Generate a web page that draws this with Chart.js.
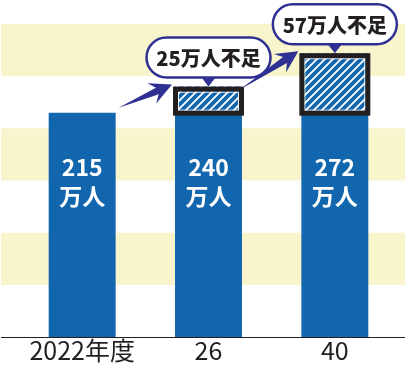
<!DOCTYPE html>
<html>
<head>
<meta charset="utf-8">
<script src="https://cdn.jsdelivr.net/npm/chart.js@4"></script>
<style>
  body { margin: 0; background: #fff; }
  #wrap { width: 411px; height: 367px; }
</style>
</head>
<body>
<div id="wrap"><canvas id="chart"></canvas></div>
<script>
// data (万人)
var categories = ['2022年度', '26', '40'];
var supplyValues = [215, 215, 215];
var shortageValues = [0, 25, 57];
var totalValues = [215, 240, 272];
var shortageLabels = ['', '25万人不足', '57万人不足'];
var bandRanges = [[50, 100], [150, 200], [250, 300]];

var BLUE = '#1166ae';
var NAVY = '#2e3192';
var INK = '#231f20';
var FONT = '"Noto Sans CJK JP", "Noto Sans", sans-serif';

// diagonal hatch for the shortage part
function hatch() {
    var n = 8;
    var c = document.createElement('canvas');
    c.width = n; c.height = n;
    var g = c.getContext('2d');
    g.fillStyle = BLUE;
    g.fillRect(0, 0, n, n);
    g.strokeStyle = '#fff';
    g.lineWidth = 1.8;
    g.beginPath();
    g.moveTo(-1, n + 1); g.lineTo(n + 1, -1);
    g.moveTo(-2, 2); g.lineTo(2, -2);
    g.moveTo(n - 2, n + 2); g.lineTo(n + 2, n - 2);
    g.stroke();
    return g.createPattern(c, 'repeat');
}

var bands = {
    id: 'bands',
    beforeDatasetsDraw: function(chart) {
        var ctx = chart.ctx, y = chart.scales.y;
        ctx.save();
        ctx.fillStyle = '#f8f5cd';
        bandRanges.forEach(function(r) {
            var top = y.getPixelForValue(r[1]), bot = y.getPixelForValue(r[0]);
            ctx.fillRect(1, top, chart.width - 7, bot - top);
        });
        ctx.restore();
    },
    afterDraw: function(chart) {
        var ctx = chart.ctx, a = chart.chartArea;
        ctx.save();
        ctx.strokeStyle = INK;
        ctx.lineWidth = 1;
        ctx.beginPath();
        ctx.moveTo(1, a.bottom + 0.5);
        ctx.lineTo(chart.width - 6, a.bottom + 0.5);
        ctx.stroke();
        ctx.restore();
    }
};

function arrow(ctx, x0, y0, x1, y1) {
    var dx = x1 - x0, dy = y1 - y0, L = Math.sqrt(dx * dx + dy * dy);
    var ux = dx / L, uy = dy / L, vx = -uy, vy = ux;
    function p(u, v) { return [x0 + ux * u + vx * v, y0 + uy * u + vy * v]; }
    var pts = [p(0, 0), p(L - 16, -3.5), p(L - 22, -11), p(L, 0), p(L - 22, 11), p(L - 16, 3.5)];
    ctx.beginPath();
    ctx.moveTo(pts[0][0], pts[0][1]);
    for (var i = 1; i < pts.length; i++) ctx.lineTo(pts[i][0], pts[i][1]);
    ctx.closePath();
    ctx.fill();
}

var notes = {
    id: 'notes',
    afterDatasetsDraw: function(chart) {
        var ctx = chart.ctx, y = chart.scales.y;
        var base = chart.getDatasetMeta(0).data;
        var extra = chart.getDatasetMeta(1).data;
        ctx.save();

        // values inside bars
        ctx.fillStyle = '#fff';
        ctx.textAlign = 'center';
        ctx.textBaseline = 'middle';
        ctx.font = 'bold 23px ' + FONT;
        base.forEach(function(el, i) {
            ctx.fillText(String(totalValues[i]), el.x, y.getPixelForValue(163));
            ctx.fillText('万人', el.x, y.getPixelForValue(135));
        });

        // frames round the shortage part
        extra.forEach(function(el, i) {
            if (!shortageValues[i]) return;
            var w = el.width, h = el.base - el.y - 2;
            var l = el.x - w / 2 + 0.5, t = el.y + 2.5;
            ctx.strokeStyle = '#fff';
            ctx.lineWidth = 1;
            ctx.strokeRect(l + 3, t + 3, w - 7, h - 6);
            ctx.strokeStyle = INK;
            ctx.lineWidth = 5;
            ctx.strokeRect(l, t, w - 1, h);
        });

        // arrows
        ctx.fillStyle = NAVY;
        for (var i = 1; i < categories.length; i++) {
            var prev = shortageValues[i - 1] ? extra[i - 1] : base[i - 1];
            var cur = extra[i];
            var px = prev.x + prev.width / 2, py = prev.y;
            var tx = cur.x - cur.width / 2 - 3, ty = cur.y - 2;
            if (shortageValues[i - 1]) { px -= 2; py += 3; } else { px += 3; py -= 5; }
            arrow(ctx, px, py, tx, ty);
        }

        // speech bubbles
        ctx.font = '900 20px ' + FONT;
        extra.forEach(function(el, i) {
            if (!shortageValues[i]) return;
            var w = 124, h = 40, cx = el.x, cy = el.y - 29;
            var l = cx - w / 2, t = cy - h / 2, r = h / 2;
            ctx.beginPath();
            ctx.moveTo(l + r, t);
            ctx.lineTo(l + w - r, t);
            ctx.arc(l + w - r, cy, r, -Math.PI / 2, Math.PI / 2);
            ctx.lineTo(l + r, t + h);
            ctx.arc(l + r, cy, r, Math.PI / 2, Math.PI * 1.5);
            ctx.closePath();
            ctx.fillStyle = '#fff';
            ctx.fill();
            ctx.lineWidth = 2.5;
            ctx.strokeStyle = NAVY;
            ctx.stroke();
            ctx.fillStyle = NAVY;
            ctx.beginPath();
            ctx.moveTo(cx - 7, t + h);
            ctx.lineTo(cx + 7, t + h);
            ctx.lineTo(cx, el.y);
            ctx.closePath();
            ctx.fill();
            ctx.fillStyle = INK;
            ctx.fillText(shortageLabels[i], cx, cy + 1);
        });
        ctx.restore();
    }
};

var ctx = document.getElementById('chart').getContext('2d');
var myChart = new Chart(ctx, {
    type: 'bar',
    data: {
        labels: categories,
        datasets: [{
            label: 'supply',
            data: supplyValues,
            backgroundColor: BLUE,
            borderWidth: 0
        }, {
            label: 'shortage',
            data: shortageValues,
            backgroundColor: hatch(),
            borderWidth: 0
        }]
    },
    options: {
        responsive: true,
        maintainAspectRatio: false,
        animation: false,
        barPercentage: 0.53,
        categoryPercentage: 1,
        layout: { padding: { left: 19, right: 13, top: 0, bottom: 0 } },
        plugins: {
            legend: { display: false },
            tooltip: { enabled: false }
        },
        scales: {
            x: {
                stacked: true,
                grid: { display: false },
                border: { display: false },
                afterFit: function(scale) { scale.height = 30; },
                ticks: {
                    padding: -10,
                    color: INK,
                    font: { family: FONT, size: 25, lineHeight: 1.2 }
                }
            },
            y: {
                stacked: true,
                display: false,
                min: 0,
                max: 323
            }
        }
    },
    plugins: [bands, notes]
});
</script>
</body>
</html>
